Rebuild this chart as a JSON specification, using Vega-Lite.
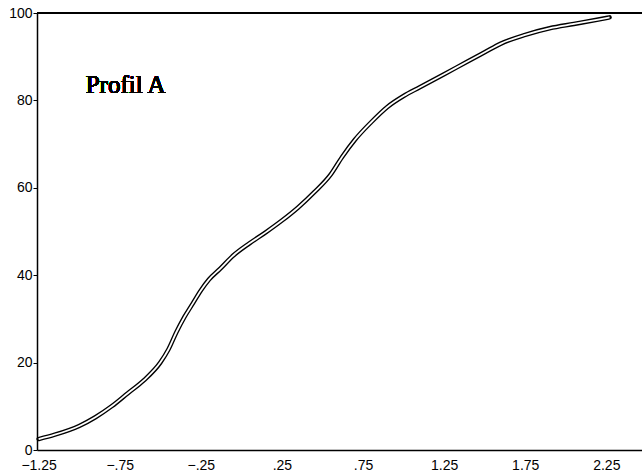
{
  "$schema": "https://vega.github.io/schema/vega-lite/v6.json",
  "width": 605,
  "height": 437,
  "autosize": {"type": "none"},
  "padding": {"left": 37, "top": 13, "right": 0, "bottom": 25},
  "background": "white",
  "config": {
    "view": {"stroke": null},
    "axis": {
      "labelFont": "Liberation Sans",
      "labelFontSize": 14,
      "labelColor": "black",
      "domainColor": "black",
      "domainWidth": 1.5,
      "tickColor": "black",
      "grid": false,
      "title": null
    }
  },
  "data": {
    "values": [
      {"x": -1.25, "y": 2.5},
      {"x": -1.15, "y": 3.5},
      {"x": -1.0, "y": 5.5},
      {"x": -0.9, "y": 7.5},
      {"x": -0.8, "y": 10},
      {"x": -0.7, "y": 13},
      {"x": -0.6, "y": 16},
      {"x": -0.5, "y": 20},
      {"x": -0.45, "y": 23},
      {"x": -0.4, "y": 27},
      {"x": -0.35, "y": 30.5},
      {"x": -0.3, "y": 33.5},
      {"x": -0.25, "y": 36.5},
      {"x": -0.2, "y": 39},
      {"x": -0.13, "y": 41.5},
      {"x": -0.05, "y": 44.5},
      {"x": 0.05, "y": 47.3},
      {"x": 0.15, "y": 49.8},
      {"x": 0.25, "y": 52.5},
      {"x": 0.35, "y": 55.5},
      {"x": 0.45, "y": 59},
      {"x": 0.55, "y": 63},
      {"x": 0.62, "y": 67},
      {"x": 0.7, "y": 71},
      {"x": 0.8, "y": 75},
      {"x": 0.9, "y": 78.5},
      {"x": 1.0, "y": 81},
      {"x": 1.1, "y": 83},
      {"x": 1.25, "y": 86},
      {"x": 1.4, "y": 89},
      {"x": 1.5, "y": 91},
      {"x": 1.6, "y": 93},
      {"x": 1.75, "y": 95},
      {"x": 1.9, "y": 96.5},
      {"x": 2.05, "y": 97.5},
      {"x": 2.2, "y": 98.5},
      {"x": 2.27, "y": 99}
    ]
  },
  "layer": [
    {
      "mark": {"type": "rule", "color": "black", "strokeWidth": 1.5},
      "encoding": {"y": {"datum": 100, "type": "quantitative"}}
    },
    {
      "mark": {"type": "line", "color": "black", "strokeWidth": 4.5, "interpolate": "monotone", "strokeCap": "round"},
      "encoding": {
        "x": {
          "field": "x", "type": "quantitative",
          "scale": {"domain": [-1.26, 2.47], "nice": false, "zero": false},
          "axis": {
            "values": [-1.25, -0.75, -0.25, 0.25, 0.75, 1.25, 1.75, 2.25],
            "labelExpr": "replace(format(datum.value, '.2f'), '0.', '.')",
            "ticks": false,
            "labelPadding": 8,
            "labelFlush": false,
            "labelBound": false
          }
        },
        "y": {
          "field": "y", "type": "quantitative",
          "scale": {"domain": [0, 100], "nice": false},
          "axis": {
            "values": [0, 20, 40, 60, 80, 100],
            "tickSize": 4,
            "labelPadding": 1
          }
        }
      }
    },
    {
      "mark": {"type": "line", "color": "white", "strokeWidth": 1.8, "interpolate": "monotone"},
      "encoding": {
        "x": {"field": "x", "type": "quantitative"},
        "y": {"field": "y", "type": "quantitative"}
      }
    },
    {
      "mark": {"type": "text", "font": "Liberation Serif", "fontSize": 25, "fontWeight": "normal", "align": "left", "baseline": "alphabetic", "color": "black"},
      "encoding": {
        "x": {"datum": -0.96, "type": "quantitative"},
        "y": {"datum": 81.7, "type": "quantitative"},
        "text": {"value": "Profil A"}
      }
    }
  ]
}
